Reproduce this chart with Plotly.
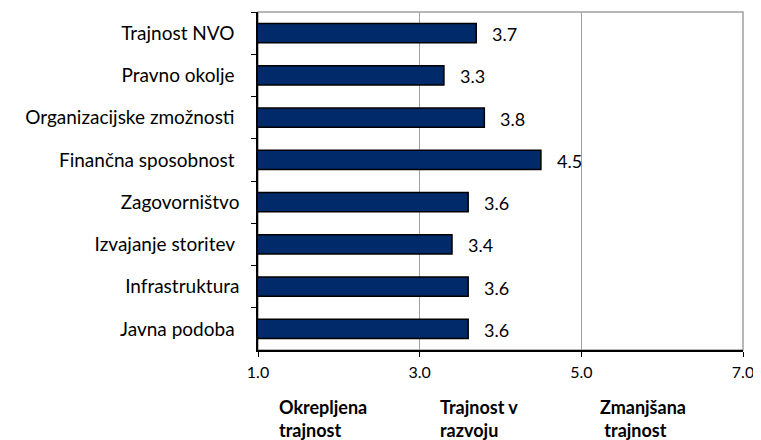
import plotly.graph_objects as go

# Data
categories = ["Trajnost NVO ", "Pravno okolje ", "Organizacijske zmožnosti ", "Finančna sposobnost ",
              "Zagovorništvo", "Izvajanje storitev ", "Infrastruktura", "Javna podoba "]
scores = [3.7, 3.3, 3.8, 4.5, 3.6, 3.4, 3.6, 3.6]
x_ticks = [1, 3, 5, 7]
band_labels = ["Okrepljena<br>trajnost", "Trajnost v<br>razvoju", "Zmanjšana<br> trajnost"]
band_starts = [1.23, 3.23, 5.21]

FONT = "Lato, 'Open Sans', sans-serif"
BAR_COLOR = "#002a6a"

fig = go.Figure()

# bars start at 0 and the axis starts at 1, so they look anchored at 1.0
fig.add_trace(go.Bar(
    y=categories,
    x=scores,
    orientation="h",
    width=0.45,
    marker=dict(color=BAR_COLOR, line=dict(color="black", width=1.5)),
    hoverinfo="x+y",
))

# value labels to the right of each bar
for cat, val in zip(categories, scores):
    fig.add_annotation(
        x=val, y=cat, xref="x", yref="y",
        text=f"{val:.1f}", showarrow=False,
        xanchor="left", xshift=14, yshift=-1,
        font=dict(family=FONT, size=18, color="black"),
    )

# bold band labels under the axis
for lab, xs in zip(band_labels, band_starts):
    fig.add_annotation(
        x=xs, y=-0.203, xref="x", yref="paper",
        text=f"<b>{lab}</b>", showarrow=False,
        xanchor="left", yanchor="middle", align="left",
        font=dict(family=FONT, size=18, color="black"),
    )

# gray frame on top and right
fig.add_shape(type="rect", xref="paper", yref="paper", x0=0, x1=1, y0=0, y1=1,
              line=dict(color="#a0a0a0", width=1.5), layer="below")

fig.update_xaxes(
    range=[1, 7],
    tickvals=x_ticks,
    tickformat=".1f",
    showgrid=True, gridcolor="#a0a0a0", gridwidth=1,
    zeroline=False,
    showline=True, linecolor="black", linewidth=1.5,
    ticks="outside", ticklen=5, tickcolor="black",
    tickfont=dict(family=FONT, size=16, color="black"),
    ticklabelstandoff=2,
)
fig.update_yaxes(
    autorange="reversed",
    showgrid=False,
    showline=True, linecolor="black", linewidth=1.5,
    ticks="outside", ticklen=5, tickcolor="black", tickson="boundaries",
    tickfont=dict(family=FONT, size=19, color="black"),
    ticklabelstandoff=13,
)

# page body keeps its default 8px margin, so the figure is a bit smaller than the window
fig.update_layout(
    width=753, height=432,
    margin=dict(l=250, r=18, t=4, b=90),
    plot_bgcolor="white", paper_bgcolor="white",
    showlegend=False,
    bargap=0.55,
)

fig.write_html("out.html")
